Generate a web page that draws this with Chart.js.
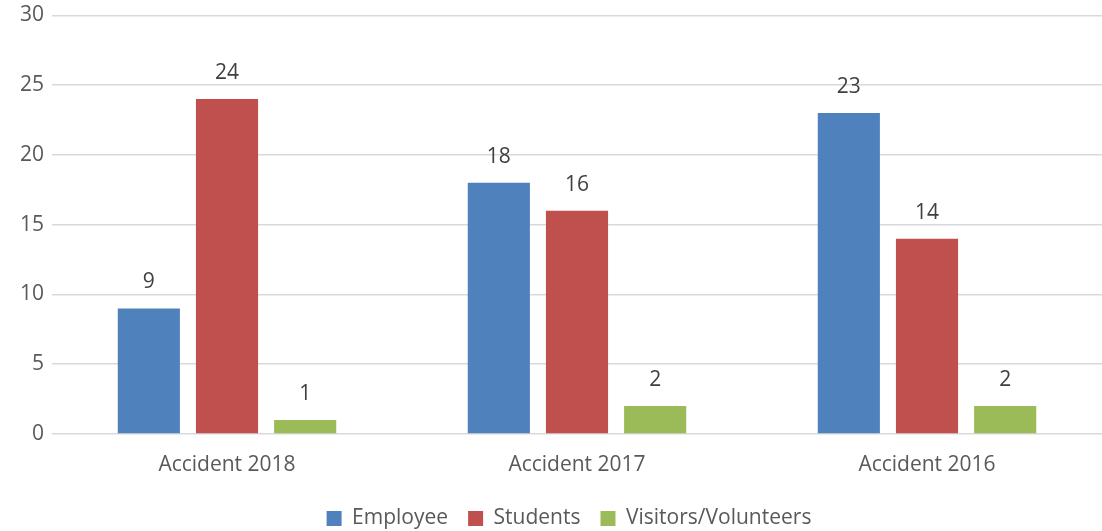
<!DOCTYPE html>
<html>
<head>
<meta charset="utf-8">
<script src="https://cdn.jsdelivr.net/npm/chart.js@4"></script>
<style>
  html, body { margin: 0; padding: 0; background: #fff; }
  #wrap { width: 1102px; height: 531px; position: relative; }
</style>
</head>
<body>
<div id="wrap"><canvas id="chart"></canvas></div>
<script>
const CATEGORIES = ['Accident 2018', 'Accident 2017', 'Accident 2016'];
const EMPLOYEE = [9, 18, 23];
const STUDENTS = [24, 16, 14];
const VISITORS = [1, 2, 2];
const Y_TICKS = [0, 5, 10, 15, 20, 25, 30];

const FONT = "'Open Sans', 'Liberation Sans', sans-serif";
const TEXT = '#595959';

// value labels above each bar
const barLabels = {
  id: 'barLabels',
  afterDatasetsDraw(chart) {
    const ctx = chart.ctx;
    ctx.save();
    ctx.font = `21px ${FONT}`;
    ctx.fillStyle = '#404040';
    ctx.textAlign = 'center';
    ctx.textBaseline = 'middle';
    chart.data.datasets.forEach((ds, i) => {
      chart.getDatasetMeta(i).data.forEach((bar, j) => {
        ctx.fillText(ds.data[j], bar.x, bar.y - 26);
      });
    });
    ctx.restore();
  }
};

// nudge the legend a bit right, like the original
const legendShift = {
  id: 'legendShift',
  afterLayout(chart) {
    if (chart.legend) {
      chart.legend.left += 18;
      chart.legend.right += 18;
    }
  }
};

new Chart(document.getElementById('chart'), {
  type: 'bar',
  data: {
    labels: CATEGORIES,
    datasets: [
      { label: 'Employee', data: EMPLOYEE, backgroundColor: '#4f81bd' },
      { label: 'Students', data: STUDENTS, backgroundColor: '#c0504d' },
      { label: 'Visitors/Volunteers', data: VISITORS, backgroundColor: '#9bbb59' },
    ],
  },
  options: {
    responsive: true,
    maintainAspectRatio: false,
    animation: false,
    categoryPercentage: 0.67,
    barPercentage: 0.795,
    layout: { padding: { top: 0, right: 0, bottom: -8, left: 0 } },
    plugins: {
      legend: {
        position: 'bottom',
        labels: {
          boxWidth: 15,
          boxHeight: 15,
          padding: 20,
          color: TEXT,
          font: { family: FONT, size: 21 },
        },
      },
      tooltip: { enabled: false },
    },
    scales: {
      x: {
        grid: { display: false },
        border: { display: false },
        ticks: { color: TEXT, font: { family: FONT, size: 21 }, padding: 10 },
        afterFit: (axis) => { axis.height = 54; },
      },
      y: {
        min: 0,
        max: 30,
        afterBuildTicks: (axis) => { axis.ticks = Y_TICKS.map((v) => ({ value: v })); },
        afterFit: (axis) => { axis.width = 52; },
        grid: { color: '#d9d9d9', lineWidth: 1.5, drawTicks: false },
        border: { display: false },
        ticks: { color: TEXT, font: { family: FONT, size: 21, lineHeight: 0.7 }, padding: 8 },
      },
    },
  },
  plugins: [barLabels, legendShift],
});
</script>
</body>
</html>
